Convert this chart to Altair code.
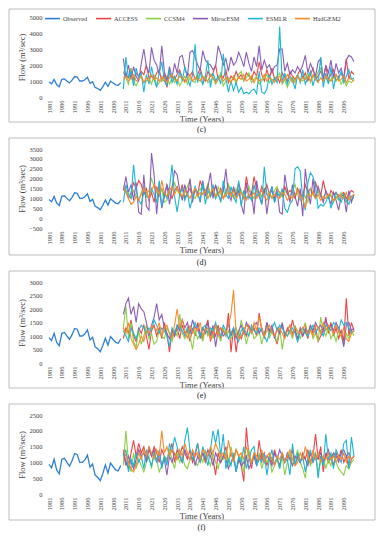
import altair as alt
import pandas as pd

SERIES = ["Observed", "ACCESS", "CCSM4", "MirocESM", "ESMLR", "HadGEM2"]
COLORS = ["#2f80d3", "#ec4343", "#8ccf48", "#8a5cb8", "#1cb5d5", "#f88a2a"]

OBS_START = 1981
FUT_START = 2010
X_TICKS = list(range(1981, 2100, 5))

OBSERVED = [940, 830, 1100, 760, 640, 1100, 1130, 1000, 880, 1050,
            1280, 1250, 1000, 1000, 1080, 1230, 850, 950, 600, 530,
            420, 650, 920, 660, 980, 870, 760, 730, 900]

# ---------------- panel (c) ----------------
C_ACCESS = [1500, 1400, 1200, 1800, 1100, 1500, 1300, 1600, 1400, 2000,
            1200, 1300, 1100, 1500, 1700, 1000, 1400, 600, 1500, 1300,
            1100, 1400, 1700, 1200, 1000, 1500, 1300, 1600, 1100, 1400,
            1800, 1200, 1000, 1600, 1300, 1500, 2000, 1100, 1400, 1200,
            1700, 900, 1300, 1100, 1600, 1200, 1400, 1000, 1500, 1300,
            1100, 1600, 1300, 2200, 1400, 1000, 1700, 1200, 1800, 1100,
            1300, 900, 1500, 1200, 1000, 1600, 1300, 1100, 1400, 1700,
            1200, 1500, 1000, 1400, 1800, 1100, 1300, 1600, 1200, 1900,
            1100, 1400, 1700, 1000, 1300, 1500, 1200, 2400, 1100, 1600, 1400]
C_CCSM4 = [1600, 1200, 800, 1800, 900, 700, 1100, 1300, 900, 1000,
           1200, 800, 1400, 700, 900, 1100, 1000, 1300, 800, 1200,
           900, 1100, 700, 1000, 1300, 800, 1200, 1000, 900, 1400,
           1100, 800, 1300, 900, 1000, 1200, 800, 1100, 1500, 700,
           1000, 1200, 900, 1300, 800, 1400, 1600, 1000, 1200, 1500,
           900, 1100, 1300, 800, 1000, 1200, 1400, 900, 1100, 1000,
           1300, 1500, 800, 1100, 600, 1000, 1200, 900, 1400, 1100,
           1000, 1200, 1500, 900, 1300, 1100, 1600, 1800, 1000, 1200,
           900, 1100, 1300, 1000, 1200, 800, 1100, 700, 1000, 900, 1100]
C_MIROC = [2400, 1200, 2000, 1100, 1900, 1300, 1000, 2100, 3000, 1900,
           1500, 3100, 2300, 2000, 1400, 3200, 1600, 1000, 1900, 1200,
           2100, 1500, 2500, 2600, 1800, 1300, 2800, 2900, 2500, 2000,
           1700, 2900, 2300, 2100, 2000, 1700, 1900, 3200, 2700, 2000,
           2400, 1600, 2500, 2000, 2200, 2800, 2400, 1900, 2800, 2100,
           1600, 2500, 1900, 3200, 1700, 2300, 1800, 2000, 1500, 1900,
           2000, 3000, 3000, 1600, 2100, 1400, 1700, 1500, 1900, 1600,
           2000, 2600, 1500, 2100, 1700, 1300, 2200, 2400, 1100, 2000,
           1500, 2300, 1200, 2100, 1500, 1800, 1100, 2300, 2600, 2500, 2200]
C_ESMLR = [500, 2500, 1200, 1600, 700, 1800, 1200, 1500, 300, 1400,
           800, 1900, 1100, 600, 1500, 2200, 1000, 700, 1700, 900,
           1300, 800, 1600, 1000, 1900, 1200, 700, 1400, 3300, 900,
           1600, 800, 1300, 2300, 600, 1500, 1000, 1300, 800, 2700,
           1200, 300, 1000, 400, 900, 300, 600, 200, 300, 200,
           400, 500, 200, 1600, 300, 200, 500, 1400, 800, 1200,
           900, 4400, 900, 1500, 800, 1300, 1100, 500, 1400, 900,
           1700, 800, 1200, 1600, 700, 1300, 900, 2500, 600, 1500,
           800, 1900, 500, 1400, 1100, 1600, 900, 1300, 1700, 1100, 1200]
C_HADGEM = [1100, 1300, 1000, 1200, 1400, 1000, 1100, 1300, 900, 1200,
            1000, 1400, 1100, 1200, 1000, 1300, 1100, 900, 1200, 1400,
            1100, 1000, 1300, 1200, 900, 1100, 1400, 1000, 1200, 1100,
            1000, 1300, 1100, 1000, 1400, 1200, 900, 1100, 1300, 1000,
            1200, 1100, 900, 1300, 1000, 1200, 1100, 1400, 1000, 1100,
            1300, 900, 1200, 1000, 1100, 1400, 1000, 1200, 1100, 900,
            1200, 1300, 1000, 1100, 1400, 1200, 900, 1100, 1300, 1000,
            1200, 1100, 1300, 1000, 1400, 1100, 900, 1200, 1000, 1300,
            1100, 1000, 1200, 1400, 1000, 1100, 1300, 900, 1200, 1100, 1000]

# ---------------- panel (d) ----------------
D_ACCESS = [1600, 1400, 1000, 1300, 1800, 1500, 1900, 1700, 1200, 1500,
            900, 1300, 800, 1600, 1200, 1500, 1100, 1700, 1300, 1000,
            1400, 1600, 1200, 1700, 1000, 1300, 1500, 1100, 1400, 1200,
            1900, 1500, 1300, 1700, 1100, 1400, 1600, 1200, 1500, 1000,
            1300, 1700, 1200, 1500, 1100, 1800, 1300, 1000, 2100, 1400,
            1200, 2100, 1500, 1100, 1600, 1300, 1700, 1200, 1400, 1000,
            1500, 1300, 1100, 1600, 1200, 1400, 1300, 1000, 1500, 1200,
            1100, 1700, 1300, 1500, 1200, 1800, 1400, 1100, 1900, 1300,
            1000, 1400, 1200, 1300, 1100, 1200, 1300, 1000, 1200, 1400, 1300]
D_CCSM4 = [1500, 1300, 1200, 1000, 1400, 1100, 900, 1300, 1600, 1200,
           1400, 2000, 1600, 1300, 1100, 1500, 800, 900, 1200, 1500,
           1800, 1400, 1200, 1000, 1300, 1600, 1900, 1100, 1000, 1300,
           1500, 1200, 1400, 1700, 1100, 1300, 1000, 1600, 1200, 1400,
           1100, 1700, 1300, 1000, 1500, 1200, 1400, 1100, 1300, 1600,
           1200, 1000, 1400, 1300, 1100, 1500, 1200, 1300, 1000, 1400,
           1600, 1200, 1100, 1300, 1500, 1000, 1400, 1700, 1200, 900,
           1300, 1100, 800, 1500, 1200, 1000, 1400, 1100, 900, 1300,
           1000, 1200, 800, 1100, 900, 1300, 1000, 800, 1100, 900, 1200]
D_MIROC = [1400, 2100, 1300, 1700, 900, 1800, 300, 200, 2200, 600,
           400, 3300, 2200, 200, 1600, 500, 1100, 1700, 700, 1500,
           2400, 2200, 1400, 900, 1700, 1100, 2000, 800, 1500, 1300,
           800, 1900, 1100, 1600, 2300, 1000, 1700, 1200, 900, 1400,
           2500, 1200, 900, 1600, 1100, 1400, 700, 200, 1800, 1000,
           1300, 200, 1900, 1100, 700, 1500, 200, 1200, 1600, 800,
           1400, 300, 200, 2200, 1400, 800, 1700, 1100, 600, 1500,
           100, 2500, 1400, 700, 2000, 1000, 1600, 1200, 800, 1400,
           1100, 700, 1300, 900, 400, 1100, 1200, 300, 1400, 800, 1200]
D_ESMLR = [800, 1700, 1200, 1000, 2700, 1400, 900, 700, 1300, 1100,
           1000, 1500, 1200, 800, 1900, 600, 1300, 1000, 1500, 2700,
           1100, 300, 1200, 1500, 900, 1300, 500, 1000, 1600, 1200,
           900, 1800, 700, 1400, 1100, 1700, 1000, 1300, 800, 1900,
           1200, 1000, 1600, 1100, 800, 1900, 600, 1400, 1000, 1200,
           900, 1700, 1100, 1300, 700, 2600, 1200, 1000, 1600, 800,
           1300, 1100, 1500, 500, 300, 700, 900, 2500, 2600, 2400,
           1000, 400, 1800, 2300, 2100, 1600, 500, 700, 600, 800,
           1200, 500, 900, 1300, 1000, 800, 1200, 900, 700, 1100, 1000]
D_HADGEM = [1600, 1300, 1000, 700, 800, 1100, 900, 1200, 1500, 1300,
            1000, 1400, 1700, 1500, 1200, 1900, 1300, 1100, 1400, 1600,
            1200, 1500, 1300, 1100, 1400, 1200, 1000, 1300, 1500, 1100,
            1300, 1200, 1400, 1000, 1300, 1500, 1100, 1200, 1400, 1000,
            1200, 1300, 1100, 1400, 1000, 1200, 1300, 1100, 900, 1200,
            1100, 1300, 1000, 1200, 1400, 1100, 900, 1300, 1000, 1200,
            1100, 1000, 1300, 1200, 900, 1100, 1000, 1200, 1400, 1100,
            1000, 500, 1200, 1100, 1300, 1000, 1200, 900, 1100, 1000,
            1200, 1100, 900, 1000, 1200, 1100, 1000, 1300, 900, 1100, 1200]

# ---------------- panel (e) ----------------
E_ACCESS = [900, 1300, 1100, 1600, 1000, 800, 1300, 1100, 1400, 1000,
            500, 1200, 1400, 1000, 1300, 900, 1500, 1100, 400, 1200,
            1000, 1300, 900, 1400, 1100, 1200, 800, 1300, 1000, 1500,
            1100, 900, 1300, 1600, 800, 1200, 1000, 1400, 900, 1200,
            1000, 1850, 400, 1300, 400, 1100, 900, 1200, 1000, 1400,
            1100, 1300, 1000, 1850, 1200, 900, 1500, 1100, 1300, 1000,
            700, 1200, 1400, 1000, 1300, 1100, 1600, 1200, 900, 1300,
            1000, 1200, 900, 1400, 1100, 1300, 800, 1000, 1200, 1700,
            1100, 1500, 1000, 1300, 900, 1200, 800, 2400, 1000, 1500, 1200]
E_CCSM4 = [1300, 2100, 900, 1500, 800, 600, 1200, 700, 1000, 1400,
           900, 1100, 700, 800, 1200, 1000, 900, 1300, 1100, 800,
           1200, 1000, 1800, 1100, 900, 1300, 1000, 500, 1200, 900,
           1100, 800, 1300, 1000, 1200, 900, 1400, 1100, 800, 1300,
           1000, 1200, 900, 1100, 1300, 1000, 1600, 1200, 700, 1100,
           1300, 900, 1000, 1200, 700, 1100, 1400, 900, 1200, 1000,
           800, 1300, 500, 1100, 1000, 1200, 900, 1400, 1100, 900,
           1200, 1500, 1000, 1300, 900, 1100, 800, 1700, 1200, 1000,
           1300, 900, 1100, 800, 1200, 1000, 700, 1100, 900, 1200, 1000]
E_MIROC = [1800, 2200, 2400, 1800, 2100, 1500, 2200, 2000, 1900, 1500,
           1000, 1400, 1700, 2200, 1600, 1800, 1300, 1100, 900, 1200,
           1000, 1400, 1200, 1600, 1300, 1500, 1100, 1600, 1300, 1400,
           900, 1300, 1100, 1500, 1000, 1400, 600, 1200, 1300, 1000,
           1100, 1500, 1000, 1300, 900, 1200, 1400, 1100, 1500, 1300,
           1200, 1400, 1500, 1100, 1300, 1000, 1500, 1200, 1400, 900,
           1300, 1100, 1500, 1000, 1200, 1400, 1100, 1300, 800, 1200,
           1000, 1300, 1100, 1400, 1200, 1500, 1300, 1400, 1200, 1600,
           1300, 1400, 1200, 1500, 1300, 1100, 600, 1400, 1500, 1200, 1300]
E_ESMLR = [1200, 1000, 800, 1300, 1100, 900, 1200, 1400, 1300, 1100,
           1300, 1200, 1600, 1400, 1100, 1300, 1200, 1000, 600, 1300,
           1100, 1400, 1300, 1200, 1000, 1300, 1100, 1200, 1500, 1200,
           1000, 1300, 1400, 1100, 1300, 1200, 1500, 1100, 1000, 1400,
           1200, 900, 1100, 1300, 1000, 800, 1200, 1300, 1100, 1000,
           1400, 1200, 1100, 1300, 1200, 1000, 800, 1100, 1300, 1500,
           1200, 1400, 1300, 1100, 1000, 1200, 1300, 1100, 800, 1200,
           1300, 1100, 1000, 1200, 1400, 1100, 1300, 1200, 1000, 1400,
           1300, 1200, 1500, 1400, 1200, 1600, 1400, 1500, 1300, 1100, 1200]
E_HADGEM = [1300, 1100, 1500, 900, 700, 500, 700, 1000, 800, 1200,
            1100, 1400, 1300, 1200, 1500, 1000, 1300, 1400, 1100, 900,
            1400, 2000, 1300, 1600, 1200, 900, 1400, 1100, 1300, 1200,
            1500, 1000, 1200, 1300, 900, 1100, 1400, 1000, 1300, 1200,
            1100, 1400, 1800, 2700, 1100, 900, 1000, 1200, 1400, 1300,
            1100, 1500, 1200, 1700, 1300, 1000, 1200, 1400, 1100, 1000,
            1200, 1300, 1100, 900, 1200, 1400, 1000, 1300, 1200, 1100,
            1300, 1400, 1100, 1200, 1000, 1400, 1300, 1100, 1500, 1200,
            1400, 1300, 1100, 1400, 1200, 1000, 1300, 900, 800, 1100, 1200]

# ---------------- panel (f) ----------------
F_ACCESS = [1400, 1000, 800, 1300, 1700, 1200, 1600, 1300, 1500, 1100,
            1400, 1200, 1500, 1300, 1000, 1400, 1200, 1100, 1300, 1600,
            1000, 1400, 1200, 1500, 1300, 1100, 1400, 1000, 1200, 1600,
            1100, 1300, 1000, 1200, 1400, 1100, 600, 1300, 1000, 1200,
            1500, 1000, 1300, 1100, 1400, 1200, 900, 400, 2100, 1200,
            800, 1300, 1000, 1700, 1100, 1300, 900, 1200, 1000, 1400,
            1100, 900, 1300, 1000, 1200, 1100, 1400, 900, 1200, 1000,
            1300, 1100, 1400, 1000, 1200, 1900, 1100, 1500, 700, 1300,
            1000, 1200, 900, 1300, 1100, 1400, 1000, 1200, 800, 1100, 1200]
F_CCSM4 = [900, 2000, 1000, 700, 1300, 800, 1100, 900, 700, 1000,
           1200, 800, 1300, 1100, 700, 900, 1200, 1000, 1400, 1100,
           800, 1300, 1000, 1200, 900, 800, 1100, 1300, 1000, 900,
           1200, 1000, 1400, 1100, 900, 1300, 1000, 800, 1200, 1100,
           1300, 900, 1500, 1100, 800, 1000, 1200, 700, 1100, 1400,
           1000, 1200, 900, 1300, 800, 1100, 1000, 1200, 700, 900,
           1100, 800, 1200, 600, 1000, 1300, 900, 1100, 1400, 1000,
           800, 500, 1200, 900, 1100, 1300, 700, 1000, 1200, 800,
           1100, 900, 1300, 1000, 800, 700, 600, 900, 800, 1000, 1100]
F_MIROC = [1300, 900, 1200, 1000, 800, 1100, 1400, 1200, 1300, 1000,
           1500, 1200, 1400, 1000, 1300, 900, 1100, 600, 1200, 1000,
           1300, 1100, 1200, 1000, 1400, 1200, 1100, 1300, 900, 1200,
           1000, 1300, 1100, 1400, 1200, 900, 1300, 1100, 1000, 1200,
           1100, 800, 1000, 1200, 700, 1100, 900, 1000, 1200, 800,
           1000, 1200, 900, 1100, 1300, 1000, 1200, 1100, 900, 1300,
           1100, 1400, 1200, 1000, 1300, 1100, 900, 1200, 1100, 1000,
           1200, 1100, 900, 1300, 1000, 1200, 1100, 1300, 1000, 1200,
           1400, 1100, 1300, 1200, 1000, 1300, 1400, 1200, 1300, 1100, 1200]
F_ESMLR = [1200, 1400, 700, 1100, 900, 1300, 1000, 1200, 800, 1400,
           1100, 900, 1300, 1000, 1400, 800, 1200, 900, 1600, 1300,
           1800, 1500, 1200, 1000, 1700, 2100, 1400, 1100, 1300, 1600,
           1000, 1500, 1200, 900, 1400, 2000, 1600, 2050, 1200, 1900,
           800, 1100, 900, 1300, 700, 1200, 1000, 1500, 800, 1100,
           1400, 1500, 900, 1200, 1000, 1300, 600, 1100, 1400, 900,
           1200, 800, 1300, 1000, 1100, 600, 1600, 900, 1300, 1000,
           1200, 700, 1100, 1400, 1000, 1300, 500, 1200, 900, 1900,
           1100, 1300, 800, 1400, 1200, 1000, 1600, 1700, 800, 1800, 1200]
F_HADGEM = [1400, 1200, 1000, 800, 700, 900, 1300, 1100, 1400, 1200,
            1500, 1300, 1100, 1400, 1200, 2000, 1300, 1500, 1200, 1400,
            1300, 1100, 1400, 1200, 1600, 1300, 1100, 1400, 1200, 1300,
            1100, 1400, 1300, 1200, 1500, 1300, 1600, 1400, 1200, 1300,
            1100, 1700, 1300, 1000, 1400, 1200, 1300, 1100, 1500, 1200,
            1000, 1300, 1200, 1100, 1400, 1000, 1200, 1300, 1100, 900,
            1200, 1100, 1300, 1000, 1200, 1400, 1100, 900, 1000, 1300,
            1100, 1500, 1200, 1000, 1400, 1100, 1300, 1000, 1200, 1100,
            1300, 1100, 1200, 1000, 1200, 1100, 1300, 1000, 1200, 1100, 1200]

PANELS = [
    # label, series lists, y-min, y-max, y-step, plot height, frame top, frame bottom
    ("(c)", [C_ACCESS, C_CCSM4, C_MIROC, C_ESMLR, C_HADGEM], 0, 5000, 1000, 80, 8, 25),
    ("(d)", [D_ACCESS, D_CCSM4, D_MIROC, D_ESMLR, D_HADGEM], -500, 3500, 500, 79, 11, 27),
    ("(e)", [E_ACCESS, E_CCSM4, E_MIROC, E_ESMLR, E_HADGEM], 0, 3000, 500, 81, 11, 25),
    ("(f)", [F_ACCESS, F_CCSM4, F_MIROC, F_ESMLR, F_HADGEM], 0, 2500, 500, 79, 11, 26),
]

W = 305
FL = 40   # frame distance left of plot
FR = 21   # frame distance right of plot
FONT = "Liberation Serif"
TXT = "#404040"


def build_panel(label, futures, ymin, ymax, ystep, h, ftop, fbot):
    rows = []
    for i, v in enumerate(OBSERVED):
        rows.append({"Year": OBS_START + i, "Flow": v, "Series": "Observed"})
    for name, vals in zip(SERIES[1:], futures):
        for i, v in enumerate(vals):
            rows.append({"Year": FUT_START + i, "Flow": v, "Series": name})
    df = pd.DataFrame(rows)

    x = alt.X("Year:Q",
              scale=alt.Scale(domain=[1981, 2100], nice=False, zero=False),
              axis=alt.Axis(values=X_TICKS, format="d", labelAngle=270,
                            title="Time (Years)", labelPadding=3, titlePadding=1))
    y = alt.Y("Flow:Q",
              scale=alt.Scale(domain=[ymin, ymax], nice=False, zero=False),
              axis=alt.Axis(values=list(range(ymin, ymax + 1, ystep)), format="d",
                            title="Flow (m³/sec)", labelPadding=7,
                            titleX=-28, titleY=h / 2, titleBaseline="middle"))
    color = alt.Color("Series:N",
                      scale=alt.Scale(domain=SERIES, range=COLORS),
                      legend=alt.Legend(title=None, orient="none", direction="horizontal",
                                        legendX=-5, legendY=-7, symbolType="stroke",
                                        symbolSize=225, symbolStrokeWidth=1.6,
                                        labelFontSize=6.3, labelFont=FONT, labelColor=TXT,
                                        columnPadding=4, labelOffset=2, padding=0))

    frame = alt.Chart(pd.DataFrame({"k": [0]})).mark_rect(
        fill="transparent", stroke="#bdbdbd", strokeWidth=1
    ).encode(x=alt.value(-FL), x2=alt.value(W + FR), y=alt.value(-ftop), y2=alt.value(h + fbot))

    layers = [frame]
    for s in SERIES:
        layers.append(
            alt.Chart(df).transform_filter(alt.datum.Series == s)
            .mark_line(strokeWidth=1.3 if s == "Observed" else 1.1)
            .encode(x=x, y=y, color=color, order="Year:Q")
        )
    return alt.layer(*layers).properties(
        width=W, height=h,
        title=alt.TitleParams(label, orient="bottom", fontSize=8, font=FONT,
                              fontWeight="normal", color="#202020", offset=3)
    )


panels = [build_panel(*p) for p in PANELS]

chart = alt.vconcat(*panels, spacing=3).properties(
    padding={"left": 0, "top": 0, "right": 0, "bottom": 0}
).configure_view(
    stroke=None
).configure_axis(
    domain=False, ticks=False, grid=False,
    labelFont=FONT, labelFontSize=6.5, labelColor=TXT,
    titleFont=FONT, titleFontSize=8.5, titleFontWeight="normal", titleColor=TXT
)

chart.save("out.html", embed_options={"renderer": "svg", "actions": False})
